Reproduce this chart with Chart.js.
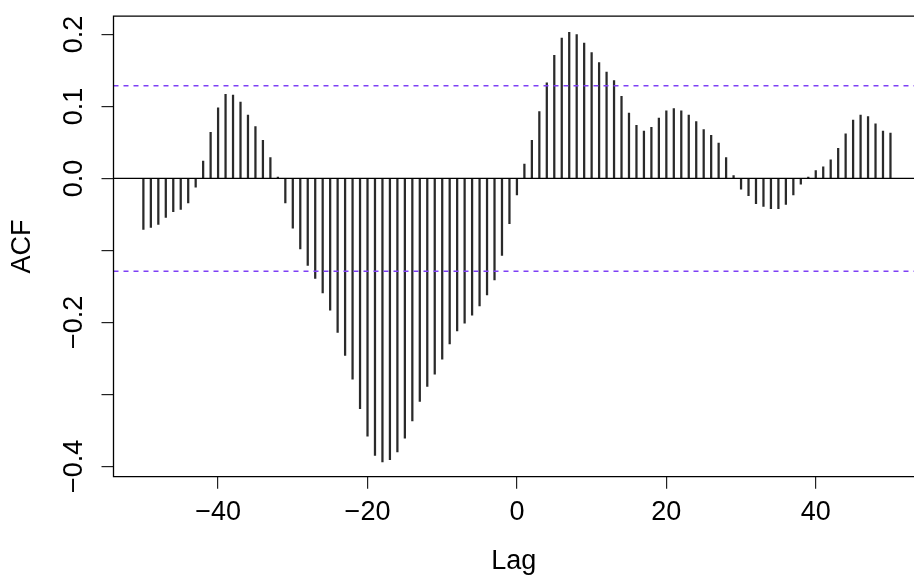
<!DOCTYPE html>
<html>
<head>
<meta charset="utf-8">
<script src="https://cdn.jsdelivr.net/npm/chart.js@4"></script>
<style>
  html, body { margin: 0; padding: 0; background: #fff; overflow: hidden; }
  canvas { display: block; }
</style>
</head>
<body>
<canvas id="acf" width="914" height="586"></canvas>
<script>
// lags of the cross-correlation
const lags = [
  -50, -49, -48, -47, -46, -45, -44, -43, -42, -41,
  -40, -39, -38, -37, -36, -35, -34, -33, -32, -31,
  -30, -29, -28, -27, -26, -25, -24, -23, -22, -21,
  -20, -19, -18, -17, -16, -15, -14, -13, -12, -11,
  -10, -9, -8, -7, -6, -5, -4, -3, -2, -1,
  0, 1, 2, 3, 4, 5, 6, 7, 8, 9,
  10, 11, 12, 13, 14, 15, 16, 17, 18, 19,
  20, 21, 22, 23, 24, 25, 26, 27, 28, 29,
  30, 31, 32, 33, 34, 35, 36, 37, 38, 39,
  40, 41, 42, 43, 44, 45, 46, 47, 48, 49,
  50
];

// ACF value at each lag
const acf = [
  -0.071, -0.068, -0.064, -0.054, -0.046, -0.043, -0.034, -0.012, 0.024, 0.064,
  0.098, 0.117, 0.116, 0.106, 0.088, 0.072, 0.053, 0.029, 0.002, -0.034,
  -0.069, -0.098, -0.121, -0.139, -0.159, -0.183, -0.214, -0.246, -0.279, -0.320,
  -0.358, -0.385, -0.394, -0.391, -0.380, -0.361, -0.337, -0.310, -0.289, -0.272,
  -0.251, -0.230, -0.212, -0.201, -0.190, -0.177, -0.162, -0.141, -0.107, -0.063,
  -0.023, 0.020, 0.053, 0.093, 0.133, 0.171, 0.195, 0.203, 0.200, 0.188,
  0.175, 0.161, 0.148, 0.136, 0.114, 0.091, 0.074, 0.066, 0.071, 0.084,
  0.094, 0.097, 0.094, 0.088, 0.079, 0.068, 0.060, 0.049, 0.029, 0.004,
  -0.015, -0.024, -0.035, -0.039, -0.042, -0.042, -0.036, -0.023, -0.008, 0.002,
  0.011, 0.016, 0.026, 0.042, 0.062, 0.081, 0.088, 0.086, 0.076, 0.066,
  0.063
];

const ciLimit = 0.129;
const xTicks = [-40, -20, 0, 20, 40];
const yTicks = [-0.4, -0.3, -0.2, -0.1, 0.0, 0.1, 0.2];
const yLabelled = [-0.4, -0.2, 0.0, 0.1, 0.2];
// the frame's right side falls just outside the canvas
const xRange = [-54, 53.15];
const yRange = [-0.4145, 0.2255];

const FONT = "'Liberation Sans', Arial, Helvetica, sans-serif";

const fmt = v => {
  const s = Math.abs(v).toFixed(1);
  return v < -1e-9 ? '\u2212' + s : s;
};

// top, left and bottom sides of the plot frame
const boxPlugin = {
  id: 'box',
  afterDraw(chart) {
    const {ctx, chartArea: a} = chart;
    ctx.save();
    ctx.strokeStyle = '#000';
    ctx.lineWidth = 1.3;
    ctx.beginPath();
    ctx.moveTo(a.right + 2, a.top);
    ctx.lineTo(a.left, a.top);
    ctx.lineTo(a.left, a.bottom);
    ctx.lineTo(a.right + 2, a.bottom);
    ctx.stroke();
    ctx.restore();
  }
};

new Chart(document.getElementById('acf'), {
  type: 'bar',
  data: {
    datasets: [
      {
        type: 'bar',
        data: lags.map((l, i) => ({x: l, y: acf[i]})),
        backgroundColor: '#2a2a2a',
        borderWidth: 0,
        barThickness: 1.6,
        order: 3
      },
      {
        type: 'line',
        data: [{x: xRange[0], y: 0}, {x: xRange[1], y: 0}],
        borderColor: '#000',
        borderWidth: 1.3,
        pointRadius: 0,
        order: 2
      },
      {
        type: 'line',
        data: [{x: xRange[0], y: ciLimit}, {x: xRange[1], y: ciLimit}],
        borderColor: '#7f40f5',
        borderWidth: 1.5,
        borderDash: [5, 5],
        pointRadius: 0,
        order: 1
      },
      {
        type: 'line',
        data: [{x: xRange[0], y: -ciLimit}, {x: xRange[1], y: -ciLimit}],
        borderColor: '#7f40f5',
        borderWidth: 1.5,
        borderDash: [5, 5],
        pointRadius: 0,
        order: 1
      }
    ]
  },
  options: {
    responsive: false,
    animation: false,
    layout: {padding: {top: 13.3, right: 0, left: 0, bottom: 0}},
    plugins: {legend: {display: false}, tooltip: {enabled: false}},
    scales: {
      x: {
        type: 'linear',
        min: xRange[0],
        max: xRange[1],
        offset: false,
        afterBuildTicks: s => { s.ticks = xTicks.map(v => ({value: v})); },
        afterFit: s => { s.height = 109.3; },
        grid: {offset: false, drawOnChartArea: false, drawTicks: true, tickLength: 12, color: '#222', lineWidth: 1.2},
        border: {display: false},
        ticks: {
          autoSkip: false,
          maxRotation: 0,
          padding: 8,
          color: '#000',
          font: {family: FONT, size: 27},
          callback: v => (v < 0 ? '\u2212' + Math.abs(v) : String(v))
        },
        title: {
          display: true,
          text: 'Lag',
          color: '#000',
          font: {family: FONT, size: 27},
          padding: {top: 0, bottom: 8}
        }
      },
      y: {
        type: 'linear',
        min: yRange[0],
        max: yRange[1],
        afterBuildTicks: s => { s.ticks = yTicks.map(v => ({value: v})); },
        afterFit: s => { s.width = 113.5; },
        grid: {drawOnChartArea: false, drawTicks: true, tickLength: 12, color: '#222', lineWidth: 1.2},
        border: {display: false},
        ticks: {
          autoSkip: false,
          minRotation: 90,
          maxRotation: 90,
          crossAlign: 'center',
          padding: 0,
          color: '#000',
          font: {family: FONT, size: 27},
          callback: v => (yLabelled.some(t => Math.abs(t - v) < 1e-9) ? fmt(v) : '')
        },
        title: {
          display: true,
          text: 'ACF',
          color: '#000',
          font: {family: FONT, size: 27},
          padding: {top: 6, bottom: 0}
        }
      }
    }
  },
  plugins: [boxPlugin]
});
</script>
</body>
</html>
